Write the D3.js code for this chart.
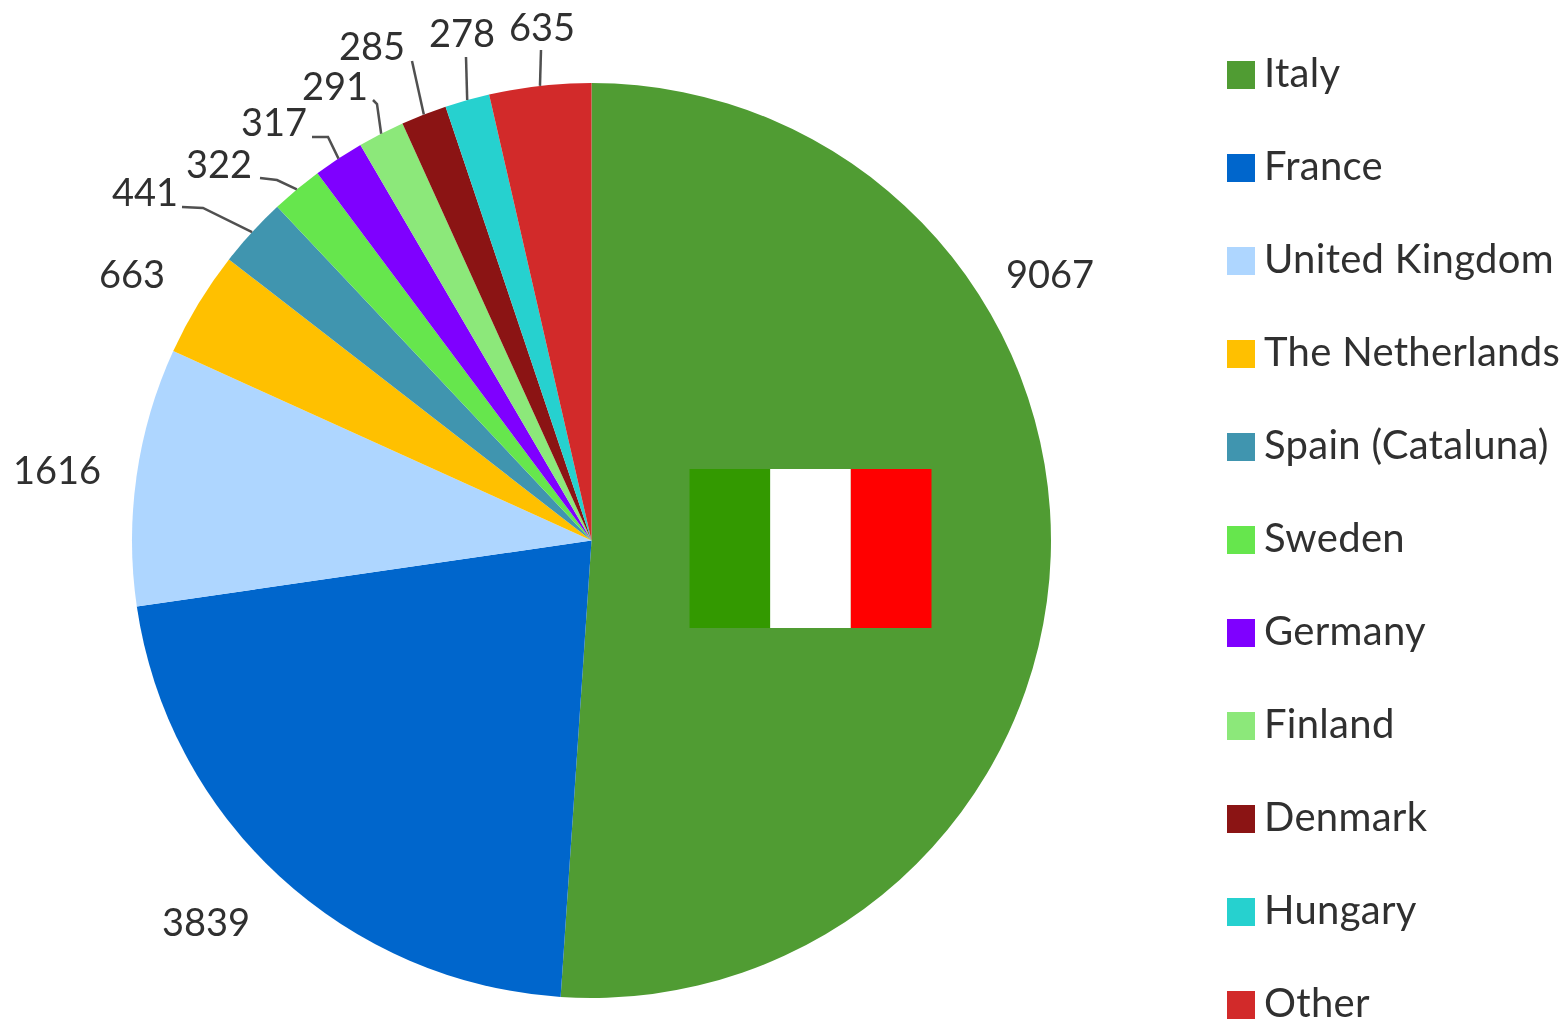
<!DOCTYPE html>
<html>
<head>
<meta charset="utf-8">
<title>Pie chart by country</title>
<script src="https://cdn.jsdelivr.net/npm/d3@7"></script>
<style>
  html, body { margin: 0; background: #fff; }
  /* the reference is an enlarged small image, so everything is a little soft */
  svg { display: block; filter: blur(0.6px); }
  text { font-family: Lato, "Open Sans", sans-serif; fill: #303030; }
</style>
</head>
<body>
<div id="chart"></div>
<script>
// Values
const countries = ["Italy", "France", "United Kingdom", "The Netherlands", "Spain (Cataluna)",
  "Sweden", "Germany", "Finland", "Denmark", "Hungary", "Other"];
const counts = [9067, 3839, 1616, 663, 441, 322, 317, 291, 285, 278, 635];
const colors = ["#509c33", "#0066cc", "#aed6ff", "#ffc000", "#4095af",
  "#66e64d", "#7f00ff", "#8ce87a", "#8b1414", "#26d1cf", "#d22a2a"];
const flagColors = ["#339900", "#ffffff", "#ff0000"];

// Layout only: where each value label sits, and the elbow of its leader line (null = straight)
const labelCenters = [[1050, 274], [206, 922], [57, 470], [132, 274], [145, 192], [219, 164],
  [274, 122], [335, 86], [372, 46], [462, 33], [542, 27]];
const leaderStarts = [null, null, null, null, [182, 207], [260, 178], [312, 137], [373, 100], [412, 61], [466, 57], [541, 50]];
const leaderElbows = [null, null, null, null, [203, 208], [277, 180], [328, 137], [377, 104], null, null, null];

const width = 1566;
const height = 1021;
const cx = 591.5;
const cy = 540.5;
const radius = 459.5;
const squash = 457.5 / 459.5; // the picture is very slightly flatter than wide
const labelSize = 38;
const legendSize = 40;

const data = countries.map((name, i) => ({ name, count: counts[i], color: colors[i] }));

const svg = d3.select("#chart").append("svg")
  .attr("width", width)
  .attr("height", height)
  .attr("viewBox", [0, 0, width, height]);

// Pie, clockwise from 12 o'clock in the given order
const pie = d3.pie().sort(null).value(d => d.count);
const arcs = pie(data);
const arc = d3.arc().innerRadius(0).outerRadius(radius);
const edge = d3.arc().innerRadius(radius).outerRadius(radius);

const chart = svg.append("g").attr("transform", `translate(${cx},${cy}) scale(1,${squash})`);

chart.selectAll("path")
  .data(arcs)
  .join("path")
  .attr("d", arc)
  .attr("fill", d => d.data.color);

// Flag on the Italy slice
const flagX = d3.scaleBand().domain(flagColors).range([cx + 98, cx + 340]);
svg.append("g")
  .selectAll("rect")
  .data(flagColors)
  .join("rect")
  .attr("x", d => flagX(d))
  .attr("y", cy - 71.5)
  .attr("width", flagX.bandwidth())
  .attr("height", 159)
  .attr("fill", d => d);

// Leader lines for the small slices
const line = d3.line();
svg.append("g")
  .attr("fill", "none")
  .attr("stroke", "#505050")
  .attr("stroke-width", 2.5)
  .selectAll("path")
  .data(arcs.filter((d, i) => leaderStarts[i]))
  .join("path")
  .attr("d", d => {
    const i = d.index;
    const [ex, ey] = edge.centroid(d);
    const pts = [leaderStarts[i]];
    if (leaderElbows[i]) pts.push(leaderElbows[i]);
    pts.push([cx + ex, cy + ey * squash]);
    return line(pts);
  });

// Value labels
svg.append("g")
  .attr("font-size", labelSize)
  .attr("text-anchor", "middle")
  .selectAll("text")
  .data(arcs)
  .join("text")
  .attr("x", d => labelCenters[d.index][0])
  .attr("y", d => labelCenters[d.index][1])
  .attr("dy", "0.36em")
  .text(d => d.data.count);

// Legend
const legendY = d3.scalePoint().domain(countries).range([75, 1005]);
const legend = svg.append("g")
  .selectAll("g")
  .data(data)
  .join("g")
  .attr("transform", d => `translate(1227,${legendY(d.name)})`);

legend.append("rect")
  .attr("y", -14)
  .attr("width", 28)
  .attr("height", 28)
  .attr("fill", d => d.color);

legend.append("text")
  .attr("x", 37)
  .attr("dy", "0.29em")
  .attr("font-size", legendSize)
  .attr("letter-spacing", 0.3)
  .text(d => d.name);
</script>
</body>
</html>
